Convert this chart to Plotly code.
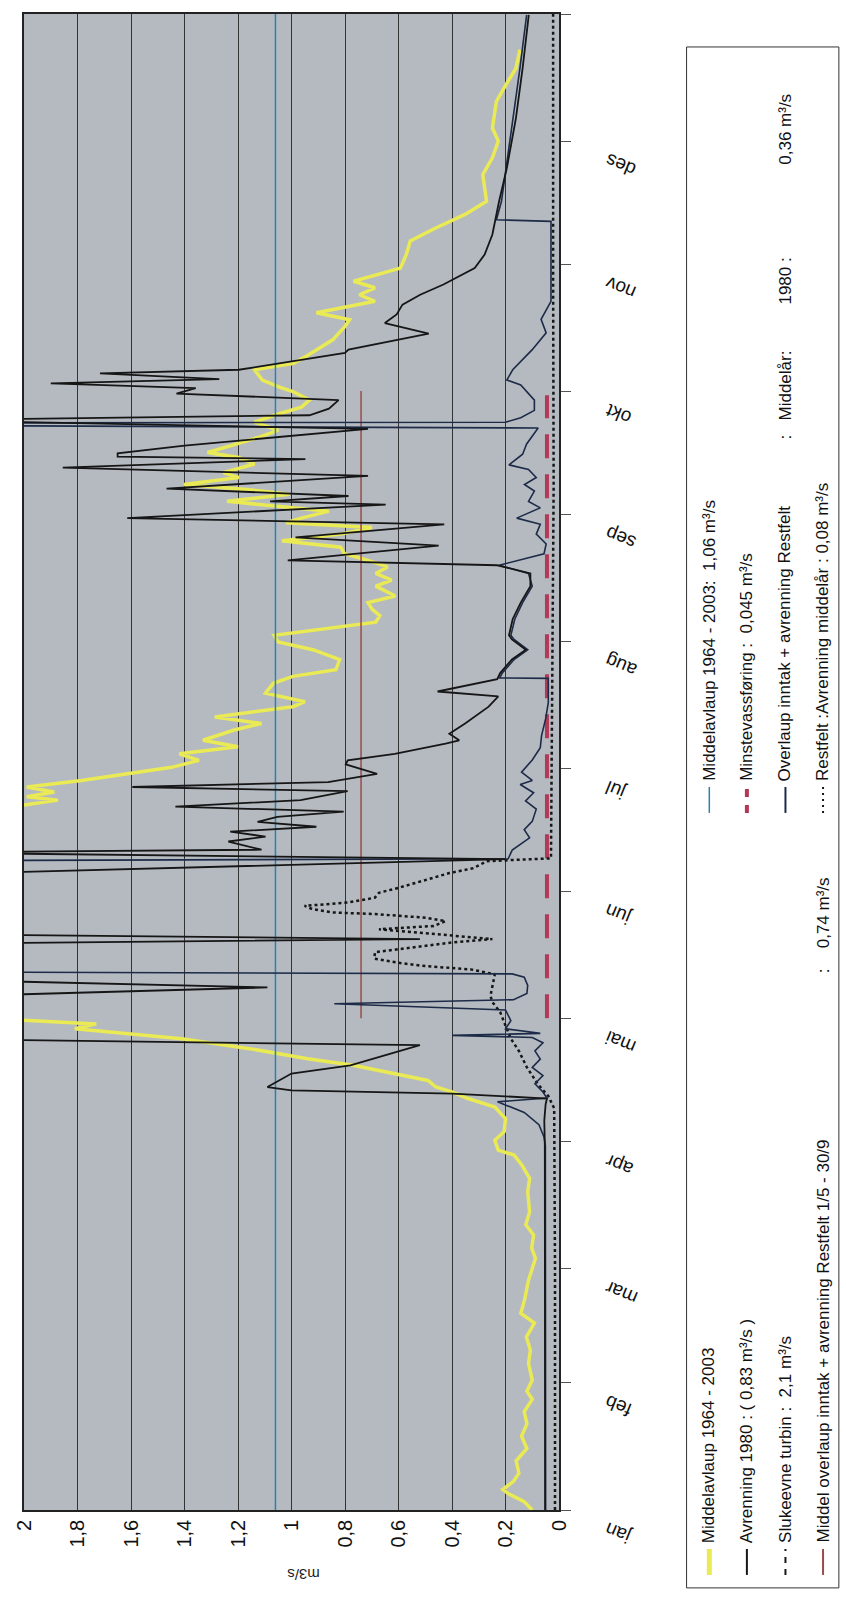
import plotly.graph_objects as go

# ---------------- data ----------------
months = ["jan", "feb", "mar", "apr", "mai", "jun", "jul", "aug", "sep", "okt", "nov", "des"]
month_start = [0, 31, 59, 90, 120, 151, 181, 212, 243, 273, 304, 334]
year_end = 365

value_ticks = [0, 0.2, 0.4, 0.6, 0.8, 1.0, 1.2, 1.4, 1.6, 1.8, 2.0]
value_tick_labels = ["0", "0,2", "0,4", "0,6", "0,8", "1", "1,2", "1,4", "1,6", "1,8", "2"]

# Middelavlaup 1964 - 2003 (yellow)
mean_day = [0, 2, 4, 5, 7, 9, 12, 15, 18, 21, 24, 27, 29, 31.7, 35.8, 39.0, 42.2, 45.6, 48.0, 51.2,
            56.1, 61.4, 63.9, 67.1, 69.6, 72.8, 77.7, 80.9, 84.2, 86.6, 87.8, 90.2, 92.3, 95.5, 98.3,
            100.4, 102.0, 103.2, 104.8, 106.5, 108.5, 110.1, 112.5, 115.0, 117.4, 118.6, 119.4, 120.5,
            171.0, 172.0, 173.2, 174.0, 175.2, 176.4, 178.0, 179.6, 181.2, 182.9, 184.5, 186.2, 187.8,
            190.3, 191.9, 193.5, 196.0, 197.2, 199.3, 201.7, 203.4, 205.0, 207.5, 209.9, 211.8, 213.4,
            215.0, 216.6, 218.2, 219.8, 221.4, 223.0, 225.4, 226.9, 228.5, 230.1, 231.7, 233.3, 234.9,
            236.5, 238.1, 239.7, 240.9, 242.0, 243.7, 244.9, 246.1, 247.8, 249.0, 250.2, 251.9, 253.1,
            255.2, 256.8, 258.0, 259.7, 261.7, 263.4, 265.4, 267.1, 269.1, 270.8, 272.8, 274.1, 275.7,
            278.2, 279.8, 281.4, 283.1, 285.5, 288.8, 290.4, 292.1, 294.9, 296.5, 298.2, 299.8, 303.0,
            306.3, 309.6, 312.8, 316.1, 319.3, 322.6, 325.8, 329.9, 334.0, 337.2, 341.3, 343.7, 347.0,
            351.8, 356.3]
mean_val = [0.10, 0.13, 0.19, 0.21, 0.17, 0.15, 0.16, 0.12, 0.14, 0.12, 0.13, 0.10, 0.12, 0.10, 0.114,
            0.107, 0.122, 0.092, 0.143, 0.129, 0.114, 0.088, 0.102, 0.095, 0.124, 0.11, 0.117, 0.11,
            0.139, 0.168, 0.227, 0.24, 0.205, 0.20, 0.24, 0.34, 0.40, 0.46, 0.49, 0.62, 0.77, 0.94,
            1.15, 1.41, 1.81, 1.73, 2.01, 2.3, 2.3, 2.0, 1.873, 1.99, 1.887, 1.99, 1.785, 1.61, 1.448,
            1.346, 1.419, 1.2, 1.331, 1.214, 1.112, 1.287, 0.995, 0.95, 1.097, 1.068, 0.995, 0.834,
            0.82, 0.92, 1.05, 1.065, 0.875, 0.685, 0.67, 0.699, 0.714, 0.612, 0.685, 0.626, 0.685,
            0.641, 0.714, 0.802, 0.816, 1.036, 0.816, 0.699, 1.021, 0.963, 0.86, 1.065, 1.241, 1.007,
            1.168, 1.402, 1.197, 1.255, 1.138, 1.197, 1.314, 1.226, 1.124, 1.05, 1.138, 1.065, 0.963,
            0.933, 0.992, 1.05, 1.109, 1.138, 0.992, 0.948, 0.904, 0.846, 0.80, 0.783, 0.907, 0.688,
            0.746, 0.688, 0.768, 0.593, 0.571, 0.556, 0.461, 0.351, 0.271, 0.278, 0.285, 0.249, 0.227,
            0.249, 0.241, 0.234, 0.205, 0.161, 0.146]

# Avrenning 1980 (black)
runoff_day = [0, 30, 60, 89, 95, 99, 100.4, 101.6, 102.4, 103.2, 106.5, 108.5, 113.4, 115.0,
              125.1, 127.5, 129.5, 138.1, 139.3, 140.5, 155.0, 158.8, 160.4, 161.1, 163.1, 164.3,
              165.5, 166.7, 167.9, 169.1, 170.4, 171.6, 173.2, 175.4, 176.4, 177.6, 179.6, 181.9,
              182.9, 184.5, 187.0, 187.8, 189.4, 191.9, 196.0, 198.5, 199.7, 202.7, 204.2, 207.5,
              209.9, 212.4, 213.4, 217.4, 221.4, 225.4, 228.5, 230.5, 231.7, 235.3, 237.3, 240.5,
              242.0, 244.1, 245.3, 246.1, 247.4, 249.2, 252.3, 254.3, 256.4, 257.0, 257.8, 259.7,
              263.8, 265.9, 267.1, 268.7, 270.8, 272.4, 273.7, 274.9, 275.9, 277.3, 278.2, 282.3,
              283.1, 287.0, 289.6, 291.7, 294.1, 296.5, 299.0, 303.0, 306.3, 311.2, 319.3, 327.4,
              339.6, 351.8, 364.8]
runoff_val = [0.052, 0.052, 0.052, 0.053, 0.055, 0.05, 0.045, 0.40, 1.0, 1.09, 1.0, 0.78, 0.52, 2.4,
              2.4, 1.09, 2.4, 2.4, 0.52, 2.4, 2.4, 0.20, 2.4, 1.112, 1.236, 1.097, 1.229, 0.907,
              1.127, 1.053, 0.805, 1.434, 0.966, 0.79, 1.595, 0.863, 0.68, 0.797, 0.79, 0.614, 0.424,
              0.373, 0.41, 0.351, 0.263, 0.227, 0.454, 0.231, 0.22, 0.176, 0.124, 0.176, 0.187, 0.173,
              0.143, 0.107, 0.107, 0.231, 1.014, 0.45, 0.985, 0.429, 1.614, 1.02, 0.648, 1.08, 0.787,
              1.467, 0.714, 1.855, 0.948, 1.65, 1.65, 1.40, 0.714, 2.4, 0.933, 0.86, 0.824, 1.43,
              1.358, 1.90, 1.27, 1.716, 1.197, 0.80, 0.787, 0.487, 0.651, 0.607, 0.585, 0.519, 0.432,
              0.315, 0.278, 0.249, 0.224, 0.195, 0.161, 0.136, 0.113]

# Overlaup inntak + avrenning Restfelt (dark blue)
overflow_day = [0, 30, 60, 89, 91, 94, 97, 99.6, 100.5, 102, 104, 106, 108, 110, 112, 114, 115.3,
                115.8, 116.3, 117.4, 119.4, 122, 123.5, 124.5, 126, 128, 130, 130.8, 131.3, 158.4,
                158.9, 161, 164, 166, 168, 171, 173, 175, 177, 178, 180, 183, 186, 189, 193, 197,
                202.9, 203.0, 204.2, 207.5, 209.9, 212.4, 213.4, 217.4, 221.4, 225.4, 228.5, 230.5,
                233.3, 235.7, 238.1, 240.5, 242.0, 244.5, 246.1, 248.6, 250.2, 251.9, 253.9, 255.0,
                257.6, 260.1, 264.0, 264.6, 265.2, 265.4, 266.5, 268.3, 270.8, 272.8, 274.5, 275.7,
                278.2, 283.1, 287.2, 290.5, 294.9, 314.4, 314.8, 319.3, 335.6, 351.8, 364.8]
overflow_val = [0.05, 0.05, 0.05, 0.051, 0.056, 0.075, 0.13, 0.23, 0.045, 0.06, 0.09, 0.06, 0.10,
                0.07, 0.09, 0.06, 0.10, 0.40, 0.07, 0.20, 0.18, 0.20, 0.84, 0.17, 0.12, 0.117, 0.13,
                0.175, 2.4, 2.4, 0.19, 0.175, 0.11, 0.13, 0.10, 0.085, 0.125, 0.095, 0.145, 0.10,
                0.14, 0.10, 0.07, 0.065, 0.05, 0.04, 0.04, 0.222, 0.212, 0.168, 0.117, 0.168, 0.18,
                0.165, 0.136, 0.10, 0.114, 0.224, 0.056, 0.048, 0.085, 0.07, 0.158, 0.07, 0.114,
                0.092, 0.129, 0.085, 0.114, 0.187, 0.136, 0.121, 0.078, 2.4, 2.4, 0.20, 0.143, 0.092,
                0.092, 0.121, 0.143, 0.195, 0.173, 0.10, 0.048, 0.067, 0.03, 0.03, 0.234, 0.215, 0.18,
                0.146, 0.121]

# Restfelt: Avrenning middelaar (dotted)
rest_day = [0, 60, 98, 101, 104, 108, 112, 115, 118.2, 121.5, 124, 125.5, 130.7, 131.9, 132.7, 133.5,
            134.5, 136.1, 137.3, 138.5, 139.3, 140.1, 140.9, 141.7, 142.5, 143.7, 144.5, 145.0, 145.4,
            145.8, 146.6, 147.4, 148.2, 149.4, 150.6, 151.8, 153.8, 155.4, 156.6, 158.3, 159.0, 200,
            250, 300, 365]
rest_val = [0.015, 0.015, 0.018, 0.04, 0.08, 0.12, 0.15, 0.18, 0.20, 0.22, 0.25, 0.256, 0.24, 0.33,
            0.50, 0.60, 0.69, 0.688, 0.541, 0.395, 0.249, 0.395, 0.556, 0.673, 0.468, 0.424, 0.497,
            0.614, 0.688, 0.849, 0.922, 0.951, 0.79, 0.688, 0.673, 0.60, 0.497, 0.41, 0.32, 0.27,
            0.03, 0.025, 0.02, 0.022, 0.022]

# constant reference lines
mean_flow_level = 1.06          # Middelavlaup 1964-2003: 1,06
turbine_capacity = 2.1          # Slukeevne turbin: 2,1
min_flow_level = 0.045          # Minstevassfoering: 0,045
min_flow_days = [120, 272]
summer_mean_level = 0.74        # Middel overlaup ... 1/5 - 30/9: 0,74
summer_days = [120, 273]

NB = "\u00a0"
legend_bottom_texts = [
    ["Middelavlaup 1964 - 2003"],
    ["Avrenning 1980 :" + NB + "( 0,83 m³/s )"],
    ["Slukeevne turbin :" + NB * 2 + "2,1 m³/s"],
    ["Middel overlaup inntak + avrenning Restfelt 1/5 - 30/9", ":", "0,74 m³/s"],
]
legend_top_texts = [
    ["Middelavlaup 1964 - 2003:" + NB * 2 + "1,06 m³/s"],
    ["Minstevassføring :" + NB * 2 + "0,045 m³/s"],
    ["Overlaup inntak + avrenning Restfelt", ":" + NB * 3 + "Middelår:", "1980 :", "0,36 m³/s"],
    ["Restfelt :Avrenning middelår : 0,08 m³/s"],
]

# ---------------- layout geometry (pixels) ----------------
W, H = 846, 1623
PL, PR, PT, PB = 18, 559, 12, 1510


def pxx(px):
    return (px - PL) / (PR - PL)


def pxy(py):
    return (PB - py) / (PB - PT)


FONT = "Liberation Sans, Arial, sans-serif"

YELLOW = "#eaea55"
BLACK = "#161616"
NAVY = "#1d2b48"
BLUE = "#2f80ad"
RED = "#b23a58"
BROWN = "#9a4b4b"

fig = go.Figure()

fig.add_trace(go.Scatter(x=mean_val, y=mean_day, mode="lines", name="Middelavlaup 1964 - 2003",
                         line=dict(color=YELLOW, width=3.5)))
fig.add_trace(go.Scatter(x=[mean_flow_level, mean_flow_level], y=[0, year_end], mode="lines",
                         name="Middelavlaup 1964 - 2003: 1,06", line=dict(color=BLUE, width=1.5)))
fig.add_trace(go.Scatter(x=[summer_mean_level, summer_mean_level], y=summer_days, mode="lines",
                         name="Middel overlaup 1/5-30/9", line=dict(color=BROWN, width=1.5)))
fig.add_trace(go.Scatter(x=[turbine_capacity, turbine_capacity], y=[0, year_end], mode="lines",
                         name="Slukeevne turbin", line=dict(color=BLACK, width=1.5, dash="dash")))
fig.add_trace(go.Scatter(x=[min_flow_level, min_flow_level], y=min_flow_days, mode="lines",
                         name="Minstevassføring", line=dict(color=RED, width=4, dash="24px,16px")))
fig.add_trace(go.Scatter(x=rest_val, y=rest_day, mode="lines", name="Restfelt",
                         line=dict(color=BLACK, width=2.5, dash="dot")))
fig.add_trace(go.Scatter(x=overflow_val, y=overflow_day, mode="lines", name="Overlaup",
                         line=dict(color=NAVY, width=1.6)))
fig.add_trace(go.Scatter(x=runoff_val, y=runoff_day, mode="lines", name="Avrenning 1980",
                         line=dict(color=BLACK, width=1.8)))

annotations = []
# month labels (upside-down slanted), hanging just below each month-start tick
for m, d in zip(months, month_start):
    annotations.append(dict(x=pxx(600), xref="paper", y=d, yref="y", xanchor="left", yanchor="top",
                            yshift=-6, text=m, showarrow=False, textangle=-158,
                            font=dict(family=FONT, size=19, color="#111")))
# axis unit
annotations.append(dict(x=pxx(300), xref="paper", y=pxy(1585), yref="paper", text="m3/s",
                        showarrow=False, textangle=180,
                        font=dict(family=FONT, size=15, color="#222")))

shapes = []
# legend box
BX0, BX1, BY0, BY1 = 688, 842, 45, 1588
shapes.append(dict(type="rect", xref="paper", yref="paper", x0=pxx(BX0), x1=pxx(BX1),
                   y0=pxy(BY1), y1=pxy(BY0), line=dict(color="#333", width=1), fillcolor="rgba(0,0,0,0)"))
cols = [711, 749, 788, 826]
bottom_styles = [dict(color=YELLOW, width=5), dict(color=BLACK, width=2),
                 dict(color=BLACK, width=2, dash="6px,6px"), dict(color=BROWN, width=2)]
top_styles = [dict(color=BLUE, width=1.5), dict(color=RED, width=4, dash="8px,8px"),
              dict(color=NAVY, width=2), dict(color=BLACK, width=2, dash="2px,4px")]
# starting pixel (bottom end) of each text piece for the wide-spaced entries
bottom_piece_starts = [[1545], [1545], [1545], [1545, 975, 950]]
top_piece_starts = [[782], [782], [782, 440, 305, 165], [782]]
for grp_start, texts, styles, starts in [(1575, legend_bottom_texts, bottom_styles, bottom_piece_starts),
                                         (812, legend_top_texts, top_styles, top_piece_starts)]:
    for cx, pieces, st, ps in zip(cols, texts, styles, starts):
        shapes.append(dict(type="line", xref="paper", yref="paper", x0=pxx(cx), x1=pxx(cx),
                           y0=pxy(grp_start), y1=pxy(grp_start - 26), line=st))
        for txt, p0 in zip(pieces, ps):
            annotations.append(dict(x=pxx(cx), xref="paper", y=pxy(p0), yref="paper",
                                    xanchor="center", yanchor="bottom", text=txt, showarrow=False,
                                    textangle=-90, font=dict(family=FONT, size=17, color="#111")))

fig.update_layout(
    width=W, height=H,
    margin=dict(l=PL, r=W - PR, t=PT, b=H - PB, pad=0),
    paper_bgcolor="white",
    plot_bgcolor="#b4bac0",
    showlegend=False,
    xaxis=dict(range=[2, 0], tickvals=value_ticks, ticktext=value_tick_labels, tickangle=-90,
               showgrid=True, gridcolor="#333", gridwidth=1, zeroline=False,
               showline=True, mirror=True, linecolor="#222", linewidth=1.5, ticks="",
               tickfont=dict(family=FONT, size=20, color="#111")),
    yaxis=dict(range=[0, year_end], tickvals=month_start + [year_end], side="right",
               showticklabels=False, ticks="outside", ticklen=10, tickcolor="#555",
               showgrid=False, zeroline=False, showline=True, mirror=True,
               linecolor="#222", linewidth=1.5),
    annotations=annotations,
    shapes=shapes,
)

fig.write_html("out.html", config={"displayModeBar": False},
               post_script="document.body.style.margin='0px';document.body.style.overflow='hidden';")
